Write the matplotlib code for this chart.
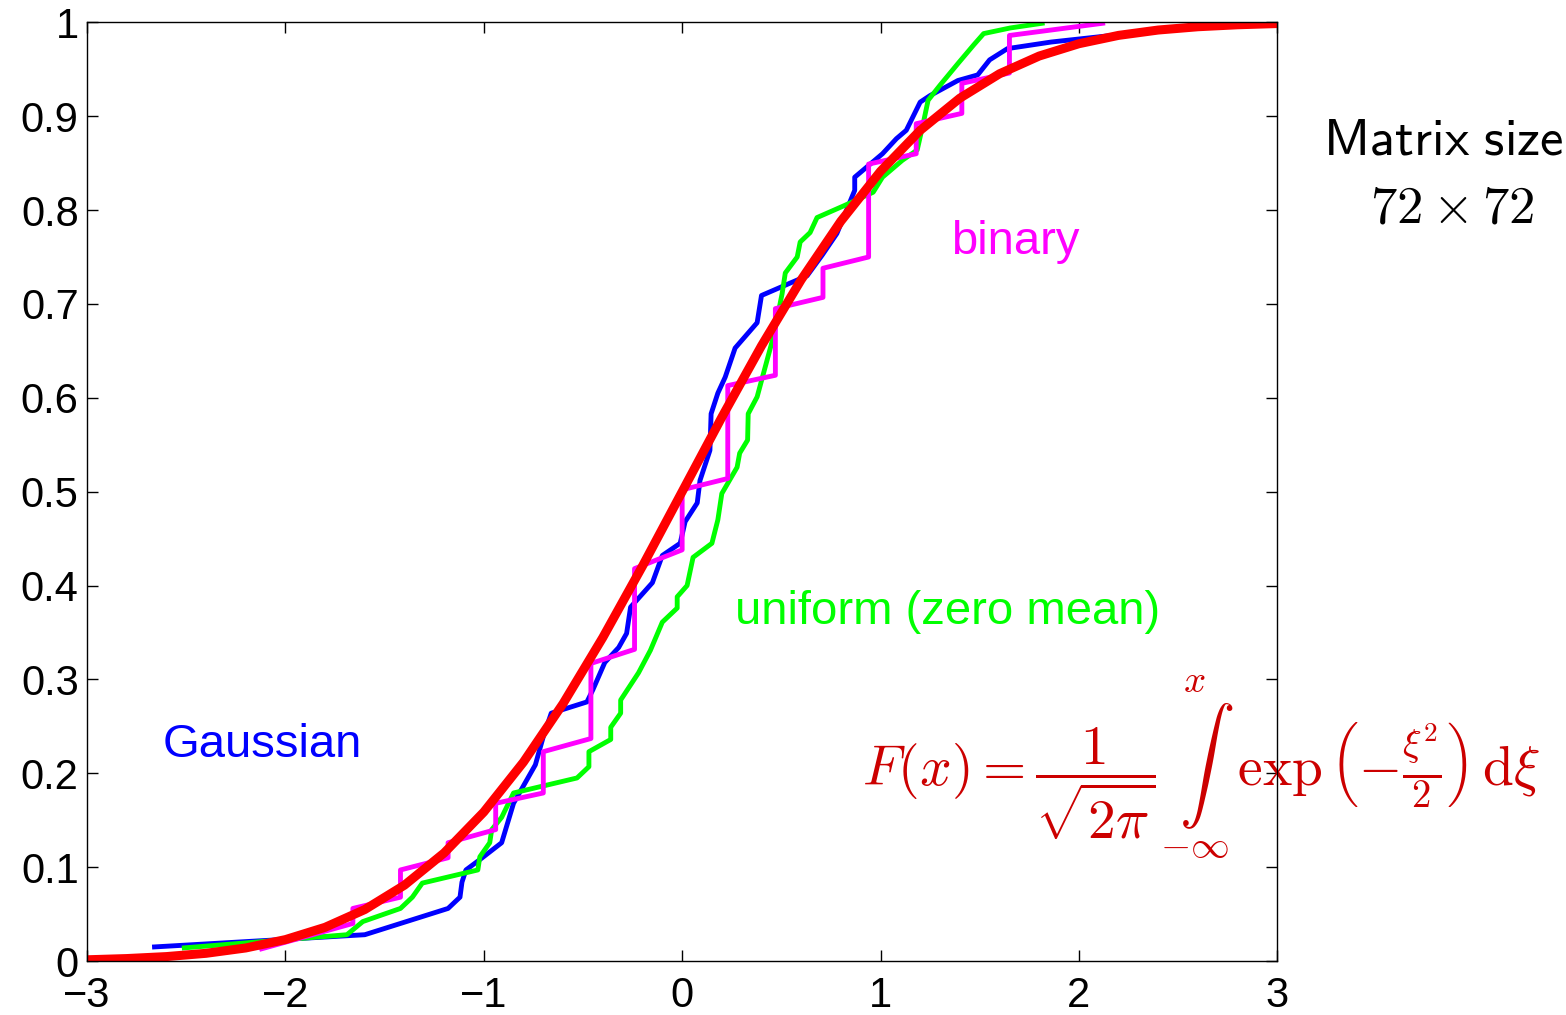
import numpy as np
import matplotlib.pyplot as plt

plt.rcParams['font.family'] = ['Liberation Sans', 'DejaVu Sans']
plt.rcParams['mathtext.fontset'] = 'cm'

# empirical CDF of a 72x72 Gaussian matrix (scaled eigenvalues)
gauss_x = [-2.66, -1.60, -1.18, -1.12, -1.11, -1.09, -1.02, -0.91, -0.85, -0.74, -0.70,
           -0.66, -0.48, -0.45, -0.39, -0.32, -0.28, -0.26, -0.15, -0.10, -0.01, 0.015,
           0.076, 0.09, 0.14, 0.146, 0.18, 0.217, 0.267, 0.378, 0.40, 0.63, 0.706, 0.78,
           0.87, 0.87, 1.01, 1.08, 1.13, 1.20, 1.25, 1.39, 1.49, 1.55, 1.64, 1.86, 2.12, 2.30]
gauss_y = [0.015, 0.028, 0.056, 0.068, 0.084, 0.097, 0.108, 0.126, 0.168, 0.209, 0.239,
           0.264, 0.276, 0.289, 0.318, 0.334, 0.349, 0.377, 0.403, 0.432, 0.445, 0.468,
           0.488, 0.512, 0.544, 0.583, 0.605, 0.622, 0.653, 0.680, 0.709, 0.730, 0.752, 0.775,
           0.821, 0.835, 0.860, 0.876, 0.885, 0.915, 0.922, 0.938, 0.944, 0.960, 0.972, 0.979, 0.985, 0.989]

# uniform (zero mean)
unif_x = [-2.51, -1.69, -1.61, -1.42, -1.36, -1.31, -1.03, -1.02, -0.97, -0.96, -0.91,
          -0.85, -0.53, -0.47, -0.47, -0.36, -0.36, -0.31, -0.31, -0.22, -0.16, -0.10,
          -0.025, -0.025, 0.025, 0.055, 0.15, 0.18, 0.20, 0.277, 0.29, 0.33, 0.333, 0.378,
          0.41, 0.46, 0.504, 0.52, 0.58, 0.595, 0.645, 0.68, 0.82, 0.963, 1.01, 1.11, 1.185,
          1.215, 1.24, 1.30, 1.39, 1.47, 1.52, 1.654, 1.815]
unif_y = [0.014, 0.028, 0.042, 0.056, 0.068, 0.083, 0.097, 0.111, 0.126, 0.140, 0.153,
          0.179, 0.195, 0.207, 0.223, 0.236, 0.249, 0.264, 0.278, 0.307, 0.331, 0.361,
          0.376, 0.388, 0.400, 0.430, 0.445, 0.470, 0.498, 0.526, 0.541, 0.555, 0.583, 0.601,
          0.626, 0.665, 0.711, 0.733, 0.750, 0.766, 0.776, 0.792, 0.805, 0.819, 0.835, 0.853, 0.864,
          0.892, 0.917, 0.933, 0.956, 0.976, 0.988, 0.994, 0.999]

# binary
bin_x = [-2.12, -1.66, -1.66, -1.42, -1.42, -1.18, -1.18, -0.94, -0.94, -0.70, -0.70,
         -0.46, -0.46, -0.24, -0.24, 0.0, 0.0, 0.23, 0.23, 0.47, 0.47, 0.71, 0.71,
         0.94, 0.94, 1.18, 1.18, 1.41, 1.41, 1.65, 1.65, 2.12]
bin_y = [0.013, 0.040, 0.056, 0.068, 0.097, 0.110, 0.126, 0.140, 0.168, 0.179, 0.223,
         0.237, 0.317, 0.332, 0.418, 0.438, 0.502, 0.514, 0.613, 0.624, 0.695, 0.707, 0.738,
         0.750, 0.849, 0.860, 0.892, 0.903, 0.935, 0.946, 0.986, 0.999]

# normal CDF F(x), read at x = -3 ... 3 step 0.2
norm_x = [-3.0, -2.8, -2.6, -2.4, -2.2, -2.0, -1.8, -1.6, -1.4, -1.2, -1.0, -0.8, -0.6, -0.4,
          -0.2, 0.0, 0.2, 0.4, 0.6, 0.8, 1.0, 1.2, 1.4, 1.6, 1.8, 2.0, 2.2, 2.4, 2.6, 2.8, 3.0]
norm_y = [0.0013, 0.0026, 0.0047, 0.0082, 0.0139, 0.0228, 0.0359, 0.0548, 0.0808, 0.1151,
          0.1587, 0.2119, 0.2743, 0.3446, 0.4207, 0.5, 0.5793, 0.6554, 0.7257, 0.7881, 0.8413,
          0.8849, 0.9192, 0.9452, 0.9641, 0.9772, 0.9861, 0.9918, 0.9953, 0.9974, 0.9987]

xticks = [-3, -2, -1, 0, 1, 2, 3]
yticks = [0, 0.1, 0.2, 0.3, 0.4, 0.5, 0.6, 0.7, 0.8, 0.9, 1]
ytick_labels = ['0', '0.1', '0.2', '0.3', '0.4', '0.5', '0.6', '0.7', '0.8', '0.9', '1']

fig = plt.figure(figsize=(15.66, 10.15), dpi=100)
ax = fig.add_axes([0.0556, 0.0532, 0.76, 0.9248])

ax.plot(gauss_x, gauss_y, color='#0000ff', lw=3.5)
ax.plot(unif_x, unif_y, color='#00ff00', lw=3.5)
ax.plot(bin_x, bin_y, color='#ff00ff', lw=3.5)
ax.plot(norm_x, norm_y, color='#ff0000', lw=6.5, solid_joinstyle='round')

ax.set_xlim(-3, 3)
ax.set_ylim(0, 1)
ax.set_xticks(xticks)
ax.set_xticklabels(['\u22123', '\u22122', '\u22121', '0', '1', '2', '3'])
ax.set_yticks(yticks)
ax.set_yticklabels(ytick_labels)
ax.tick_params(direction='in', length=8, width=1, labelsize=30, top=True, right=True)
ax.tick_params(axis='y', pad=6)
ax.tick_params(axis='x', pad=11)
for s in ax.spines.values():
    s.set_linewidth(1)

ax.text(-2.62, 0.23, 'Gaussian', color='#0000ff', fontsize=34, va='center')
ax.text(1.357, 0.766, 'binary', color='#ff00ff', fontsize=34, va='center')
ax.text(0.267, 0.372, 'uniform (zero mean)', color='#00ff00', fontsize=34, va='center')
ax.text(0.908, 0.207,
        r'$F(x) = \dfrac{1}{\sqrt{2\pi}}\underset{-\infty}{\overset{x}{\int}}\,\exp\left(-\frac{\xi^2}{2}\right)\,\mathrm{d}\xi$',
        color='#cc0000', fontsize=40, va='center', zorder=2)
ax.text(3.23, 0.874, r'$\mathsf{Matrix\ size}$', fontsize=38, va='center')
ax.text(3.47, 0.802, r'$72 \times 72$', fontsize=38, va='center')

fig.savefig('out.png', dpi=100)
